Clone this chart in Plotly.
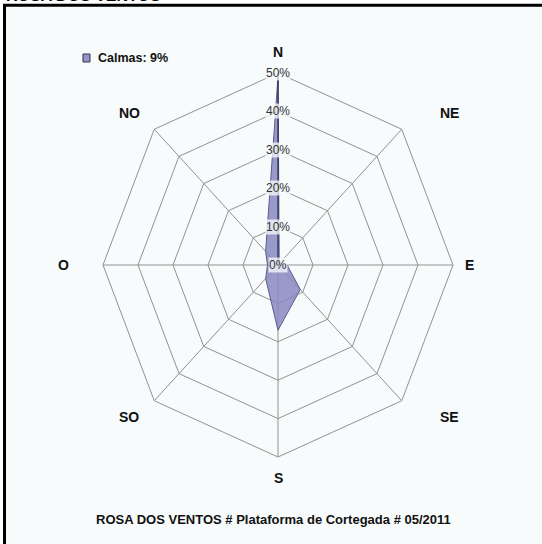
import math
import plotly.graph_objects as go

# ---- data ----
directions = ["N", "NE", "E", "SE", "S", "SO", "O", "NO"]
angles_deg = [0, 45, 90, 135, 180, 225, 270, 315]
frequency_pct = [49, 0.5, 2.6, 9, 17, 5, 3, 5]
radial_ticks = [0, 10, 20, 30, 40, 50]
radial_tick_labels = ["0%", "10%", "20%", "30%", "40%", "50%"]
calm_pct = 9
chart_title = "ROSA DOS VENTOS"
caption = "ROSA DOS VENTOS # Plataforma de Cortegada # 05/2011"

W, H = 542, 544
CX, CY = 278, 265          # centre of the rose in pixels
PX_X, PX_Y = 3.5, 3.84     # pixels per percent unit (x, y)
RMAX = radial_ticks[-1]


def to_xy(r, a):
    t = math.radians(a)
    return r * math.sin(t), r * math.cos(t)


fig = go.Figure()

grid_color = "#929292"
# spokes
for a in angles_deg:
    x1, y1 = to_xy(RMAX, a)
    fig.add_trace(go.Scatter(x=[0, x1], y=[0, y1], mode="lines",
                             line=dict(color=grid_color, width=1),
                             hoverinfo="skip", showlegend=False))
# octagon gridlines
for rt in radial_ticks[1:]:
    pts = [to_xy(rt, a) for a in angles_deg + [angles_deg[0]]]
    fig.add_trace(go.Scatter(x=[p[0] for p in pts], y=[p[1] for p in pts],
                             mode="lines", line=dict(color=grid_color, width=1),
                             hoverinfo="skip", showlegend=False))

# data polygon
pts = [to_xy(r, a) for r, a in zip(frequency_pct + frequency_pct[:1],
                                   angles_deg + angles_deg[:1])]
fig.add_trace(go.Scatter(x=[p[0] for p in pts], y=[p[1] for p in pts],
                         mode="lines", fill="toself",
                         fillcolor="rgba(136,136,192,0.85)",
                         line=dict(color="#5c5c90", width=1),
                         name=f"Calmas: {calm_pct}%", hoverinfo="skip",
                         showlegend=False))

# radial axis line (N)
x1, y1 = to_xy(RMAX, 0)
fig.add_trace(go.Scatter(x=[0, x1], y=[0, y1], mode="lines",
                         line=dict(color="#1a1a40", width=1),
                         hoverinfo="skip", showlegend=False))

annotations = []
for rt, lab in zip(radial_ticks, radial_tick_labels):
    annotations.append(dict(x=0, y=rt, xref="x", yref="y", text=lab,
                            showarrow=False, bgcolor="rgba(248,251,252,0.75)",
                            font=dict(family="Liberation Sans", size=12, color="#333333"),
                            borderpad=0))

label_shift = {"N": (0, 21), "NE": (48, 16), "E": (16, 0), "SE": (48, -16),
               "S": (0, -21), "SO": (-25, -16), "O": (-40, 0), "NO": (-25, 16)}
for d, a in zip(directions, angles_deg):
    x, y = to_xy(RMAX, a)
    sx, sy = label_shift[d]
    annotations.append(dict(x=x, y=y, xref="x", yref="y", text=f"<b>{d}</b>",
                            showarrow=False, xshift=sx, yshift=sy,
                            font=dict(family="Liberation Sans", size=14, color="#111111")))

annotations.append(dict(x=96 / W, y=1 - 58 / H, xref="paper", yref="paper",
                        text=f"<b>Calmas: {calm_pct}%</b>", showarrow=False,
                        xanchor="left", yanchor="middle",
                        font=dict(family="Liberation Sans", size=12.5, color="#111111")))
annotations.append(dict(x=273 / W, y=1 - 519 / H, xref="paper", yref="paper",
                        text=f"<b>{caption}</b>", showarrow=False,
                        xanchor="center", yanchor="middle",
                        font=dict(family="Liberation Sans", size=13, color="#111111")))
annotations.append(dict(x=4 / W, y=1 + 4.5 / H, xref="paper", yref="paper",
                        text=f"<b>{chart_title}</b>", showarrow=False,
                        xanchor="left", yanchor="middle",
                        font=dict(family="Liberation Sans", size=16, color="#000000")))

shapes = [
    dict(type="rect", xref="paper", yref="paper", x0=4.5 / W, x1=1.05,
         y0=-0.05, y1=1 - 5.3 / H, fillcolor="#f7fbfc",
         line=dict(color="#000000", width=3), layer="below"),
    dict(type="rect", xref="paper", yref="paper", x0=83 / W, x1=90 / W,
         y0=1 - 62 / H, y1=1 - 54 / H, fillcolor="rgba(136,136,192,0.9)",
         line=dict(color="#333344", width=1)),
]

fig.update_layout(
    width=W, height=H,
    margin=dict(l=0, r=0, t=0, b=0),
    paper_bgcolor="white", plot_bgcolor="rgba(0,0,0,0)",
    xaxis=dict(range=[-CX / PX_X, (W - CX) / PX_X], visible=False, fixedrange=True),
    yaxis=dict(range=[-(H - CY) / PX_Y, CY / PX_Y], visible=False, fixedrange=True),
    annotations=annotations, shapes=shapes, showlegend=False,
)

fig.write_html("out.html", config={"displayModeBar": False},
               post_script="document.body.style.margin='0';document.body.style.overflow='hidden';")
